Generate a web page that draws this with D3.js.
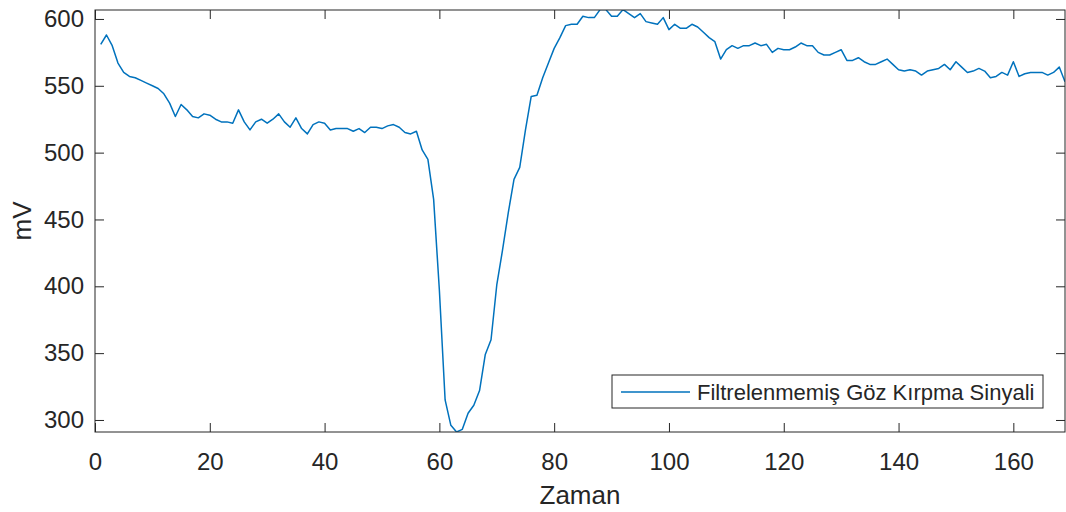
<!DOCTYPE html>
<html>
<head>
<meta charset="utf-8">
<script src="https://cdn.jsdelivr.net/npm/d3@7"></script>
<style>
  body { margin: 0; background: #fff; }
  svg text { font-family: "Liberation Sans", Arial, Helvetica, sans-serif; fill: #262626; }
</style>
</head>
<body>
<svg id="chart" width="1066" height="512"></svg>
<script>
// raw blink signal, one sample per time step (t = 1..169)
const signal = [
  581, 588, 580, 567, 560, 557, 556, 554, 552, 550,
  548, 544, 537, 527, 536, 532, 527, 526, 529, 528,
  525, 523, 523, 522, 532, 523, 517, 523, 525, 522,
  525, 529, 523, 519, 526, 518, 514, 521, 523, 522,
  517, 518, 518, 518, 516, 518, 515, 519, 519, 518,
  520, 521, 519, 515, 514, 516, 502, 495, 465, 397,
  315, 296, 291, 293, 305, 311, 322, 349, 360, 401,
  427, 455, 480, 489, 517, 542, 543, 556, 567, 578,
  586, 595, 596, 596, 602, 601, 601, 607, 607, 602,
  602, 607, 604, 601, 604, 598, 597, 596, 601, 592,
  596, 593, 593, 596, 594, 590, 586, 583, 570, 577,
  580, 578, 580, 580, 582, 580, 581, 575, 578, 577,
  577, 579, 582, 580, 580, 575, 573, 573, 575, 577,
  569, 569, 571, 568, 566, 566, 568, 570, 566, 562,
  561, 562, 561, 558, 561, 562, 563, 566, 562, 568,
  564, 560, 561, 563, 561, 556, 557, 560, 558, 568,
  557, 559, 560, 560, 560, 558, 560, 564, 553
];
const xTicks = [0, 20, 40, 60, 80, 100, 120, 140, 160];
const yTicks = [300, 350, 400, 450, 500, 550, 600];
const xLabel = 'Zaman';
const yLabel = 'mV';
const legendLabel = 'Filtrelenmemiş Göz Kırpma Sinyali';

const svg = d3.select('#chart');
const margin = { left: 95, right: 1, top: 10, bottom: 80 };
const W = 1066, H = 512;
const axisColor = '#262626';
const lineColor = '#0072BD';

const x = d3.scaleLinear().domain([0, signal.length]).range([margin.left, W - margin.right]);
const y = d3.scaleLinear().domain([291, 606.7]).range([H - margin.bottom, margin.top]);

const pts = signal.map((v, i) => ({ t: i + 1, v: v }));

svg.append('clipPath').attr('id', 'plotclip')
    .append('rect')
    .attr('x', x.range()[0]).attr('y', y.range()[1])
    .attr('width', x.range()[1] - x.range()[0])
    .attr('height', y.range()[0] - y.range()[1]);

svg.append('path')
    .datum(pts)
    .attr('clip-path', 'url(#plotclip)')
    .attr('fill', 'none')
    .attr('stroke', lineColor)
    .attr('stroke-width', 1.5)
    .attr('stroke-linejoin', 'round')
    .attr('d', d3.line().x(d => x(d.t)).y(d => y(d.v)));

// axes (MATLAB style: ticks inside, mirrored on top/right)
const tickLen = 9;
const styleAxis = g => {
    g.select('.domain').remove();
    g.selectAll('.tick line').attr('stroke', axisColor);
    g.selectAll('.tick text').attr('fill', axisColor).style('font-size', '24px');
};

svg.append('g')
    .attr('transform', `translate(0,${y.range()[0]})`)
    .call(d3.axisBottom(x).tickValues(xTicks).tickSizeInner(-tickLen).tickSizeOuter(0).tickPadding(21))
    .call(styleAxis);
svg.append('g')
    .attr('transform', `translate(0,${y.range()[1]})`)
    .call(d3.axisTop(x).tickValues(xTicks).tickSizeInner(-tickLen).tickSizeOuter(0).tickFormat(''))
    .call(styleAxis);
svg.append('g')
    .attr('transform', `translate(${x.range()[0]},0)`)
    .call(d3.axisLeft(y).tickValues(yTicks).tickSizeInner(-tickLen).tickSizeOuter(0).tickPadding(11))
    .call(styleAxis);
svg.append('g')
    .attr('transform', `translate(${x.range()[1]},0)`)
    .call(d3.axisRight(y).tickValues(yTicks).tickSizeInner(-tickLen).tickSizeOuter(0).tickFormat(''))
    .call(styleAxis);

svg.append('rect')
    .attr('x', x.range()[0]).attr('y', y.range()[1])
    .attr('width', x.range()[1] - x.range()[0])
    .attr('height', y.range()[0] - y.range()[1])
    .attr('fill', 'none')
    .attr('stroke', axisColor)
    .attr('stroke-width', 1);

svg.append('text')
    .attr('x', (x.range()[0] + x.range()[1]) / 2)
    .attr('y', 504)
    .attr('text-anchor', 'middle')
    .style('font-size', '26px')
    .text(xLabel);

svg.append('text')
    .attr('transform', `translate(31,${(y.range()[0] + y.range()[1]) / 2}) rotate(-90)`)
    .attr('text-anchor', 'middle')
    .style('font-size', '26px')
    .text(yLabel);

// legend
const lg = svg.append('g').attr('transform', 'translate(612,375)');
lg.append('rect')
    .attr('width', 431).attr('height', 33)
    .attr('fill', '#fff')
    .attr('stroke', axisColor)
    .attr('stroke-width', 1);
lg.append('line')
    .attr('x1', 9).attr('x2', 78)
    .attr('y1', 17).attr('y2', 17)
    .attr('stroke', lineColor)
    .attr('stroke-width', 1.5);
lg.append('text')
    .attr('x', 85).attr('y', 24.5)
    .style('font-size', '22px')
    .text(legendLabel);
</script>
</body>
</html>
